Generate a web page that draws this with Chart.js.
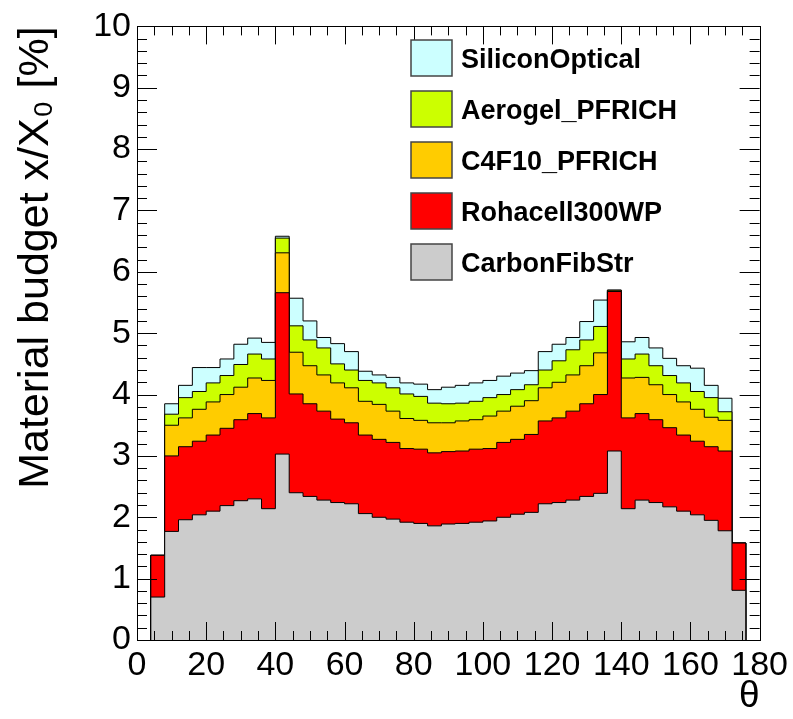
<!DOCTYPE html>
<html lang="en">
  <head>
    <meta charset="UTF-8" />
    <title>Material budget vs theta</title>
    <script src="https://cdn.jsdelivr.net/npm/chart.js@4.4.1/dist/chart.umd.min.js"></script>
    <style>
      html, body { margin: 0; padding: 0; background: #fff; }
      .chart-container { width: 793px; height: 719px; position: relative; }
    </style>
  </head>
  <body>
    <div class="chart-container">
      <canvas id="budgetChart"></canvas>
    </div>

    <script>
      // lower bin edges in theta (deg), last entry is the upper edge of the last bin
      const binEdges = [4, 8, 12, 16, 20, 24, 28, 32, 36, 40, 44, 48, 52, 56, 60, 64, 68, 72, 76, 80, 84, 88,
        92, 96, 100, 104, 108, 112, 116, 120, 124, 128, 132, 136, 140, 144, 148, 152, 156, 160, 164, 168, 172, 176];

      // x/X0 [%] per material, one value per bin
      const carbonFibStr = [0.70, 1.77, 1.96, 2.04, 2.10, 2.19, 2.27, 2.30, 2.14, 3.03, 2.40, 2.34, 2.28, 2.24, 2.22,
        2.06, 2.00, 1.97, 1.92, 1.90, 1.86, 1.89, 1.90, 1.92, 1.94, 2.00, 2.05, 2.08, 2.22, 2.24, 2.28, 2.34, 2.39,
        3.08, 2.14, 2.28, 2.24, 2.17, 2.10, 2.04, 1.95, 1.78, 0.81];
      const rohacell300WP = [0.68, 1.23, 1.19, 1.20, 1.24, 1.26, 1.32, 1.39, 1.48, 2.63, 1.61, 1.51, 1.45, 1.36, 1.32,
        1.28, 1.27, 1.25, 1.20, 1.21, 1.19, 1.18, 1.18, 1.19, 1.18, 1.22, 1.22, 1.27, 1.35, 1.38, 1.45, 1.51, 1.61,
        2.60, 1.48, 1.41, 1.35, 1.29, 1.24, 1.20, 1.20, 1.30, 0.77];
      const c4f10 = [0, 0.50, 0.47, 0.52, 0.54, 0.55, 0.53, 0.58, 0.61, 0.65, 0.68, 0.62, 0.59, 0.59, 0.57,
        0.55, 0.57, 0.51, 0.49, 0.47, 0.49, 0.47, 0.49, 0.48, 0.53, 0.51, 0.54, 0.55, 0.54, 0.58, 0.59, 0.62, 0.68,
        0.02, 0.65, 0.59, 0.57, 0.54, 0.54, 0.52, 0.48, 0.50, 0];
      const aerogel = [0, 0.18, 0.33, 0.29, 0.31, 0.31, 0.37, 0.39, 0.35, 0.24, 0.43, 0.42, 0.44, 0.31, 0.29,
        0.34, 0.35, 0.38, 0.40, 0.39, 0.32, 0.31, 0.29, 0.30, 0.30, 0.27, 0.27, 0.26, 0.29, 0.35, 0.41, 0.42, 0.43,
        0, 0.31, 0.38, 0.31, 0.31, 0.31, 0.29, 0.32, 0.14, 0];
      const siliconOptical = [0, 0.17, 0.20, 0.39, 0.25, 0.27, 0.33, 0.26, 0.27, 0.03, 0.45, 0.31, 0.17, 0.33, 0.30,
        0.15, 0.13, 0.17, 0.18, 0.20, 0.22, 0.27, 0.29, 0.30, 0.28, 0.30, 0.27, 0.23, 0.30, 0.27, 0.20, 0.30, 0.43,
        0, 0.28, 0.27, 0.29, 0.28, 0.28, 0.38, 0.20, 0.22, 0];

      const materials = [
        { label: "CarbonFibStr", values: carbonFibStr, color: "#cccccc" },
        { label: "Rohacell300WP", values: rohacell300WP, color: "#ff0000" },
        { label: "C4F10_PFRICH", values: c4f10, color: "#ffcc00" },
        { label: "Aerogel_PFRICH", values: aerogel, color: "#ccff00" },
        { label: "SiliconOptical", values: siliconOptical, color: "#ccffff" },
      ];

      // stack like THStack: each layer is drawn as the cumulative sum, filled to zero
      const running = binEdges.slice(0, -1).map(() => 0);
      const datasets = materials.map((m) => {
        m.values.forEach((v, i) => (running[i] += v));
        const last = binEdges.length - 1;
        const pts = [{ x: binEdges[0], y: 0 }];
        running.forEach((y, i) => pts.push({ x: binEdges[i], y: +y.toFixed(3) }));
        pts.push({ x: binEdges[last], y: +running[last - 1].toFixed(3) });
        pts.push({ x: binEdges[last], y: 0 });
        return {
          label: m.label,
          data: pts,
          stepped: true,
          fill: "origin",
          backgroundColor: m.color,
          borderColor: "#000",
          borderWidth: 1,
          pointRadius: 0,
        };
      });

      // ROOT-style frame with inward ticks on all four sides + legend box
      const rootFrame = {
        id: "rootFrame",
        afterDatasetsDraw(chart) {
          const { ctx, chartArea: a, scales } = chart;
          const xs = scales.x, ys = scales.y;
          ctx.save();
          ctx.strokeStyle = "#000";
          ctx.lineWidth = 1;
          ctx.beginPath();
          for (let v = 0; v <= 180; v += 5) {
            const px = Math.round(xs.getPixelForValue(v)) + 0.5;
            const len = v % 20 === 0 ? 18 : 9;
            ctx.moveTo(px, a.bottom); ctx.lineTo(px, a.bottom - len);
            ctx.moveTo(px, a.top); ctx.lineTo(px, a.top + len);
          }
          for (let k = 0; k <= 50; k++) {
            const py = Math.round(ys.getPixelForValue(k / 5)) + 0.5;
            const len = k % 5 === 0 ? 20 : 10;
            ctx.moveTo(a.left, py); ctx.lineTo(a.left + len, py);
            ctx.moveTo(a.right, py); ctx.lineTo(a.right - len, py);
          }
          ctx.stroke();
          ctx.strokeRect(Math.round(a.left) + 0.5, Math.round(a.top) + 0.5,
            Math.round(a.right - a.left), Math.round(a.bottom - a.top));

          // legend, top entry = last dataset
          const sets = chart.data.datasets.slice().reverse();
          ctx.font = "bold 27px 'Liberation Sans', Arial, sans-serif";
          ctx.textBaseline = "middle";
          ctx.textAlign = "left";
          sets.forEach((ds, i) => {
            const y = 40 + i * 51;
            ctx.fillStyle = ds.backgroundColor;
            ctx.fillRect(411, y, 41, 36);
            ctx.strokeStyle = "#444";
            ctx.lineWidth = 1.5;
            ctx.strokeRect(411, y, 41, 36);
            ctx.fillStyle = "#000";
            ctx.fillText(ds.label, 461, y + 21);
          });
          ctx.restore();
        },
      };

      const tickFont = { family: "'Liberation Sans', Arial, sans-serif", size: 34 };

      new Chart(document.getElementById("budgetChart"), {
        type: "line",
        data: { datasets },
        plugins: [rootFrame],
        options: {
          responsive: true,
          maintainAspectRatio: false,
          animation: false,
          layout: { padding: { left: 0, top: 23, right: 31, bottom: 0 } },
          plugins: { legend: { display: false }, tooltip: { enabled: false } },
          scales: {
            x: {
              type: "linear",
              min: 0,
              max: 180,
              grid: { display: false, drawTicks: false },
              border: { display: false },
              ticks: { stepSize: 20, padding: 5, color: "#000", font: tickFont, maxRotation: 0 },
              title: {
                display: true,
                text: "θ",
                align: "end",
                color: "#000",
                padding: 0,
                font: { family: "'Liberation Sans', Arial, sans-serif", size: 37 },
              },
              afterFit: (s) => { s.height = 79; },
            },
            y: {
              min: 0,
              max: 10,
              grid: { display: false, drawTicks: false },
              border: { display: false },
              ticks: { stepSize: 1, padding: 6, color: "#000", font: tickFont },
              title: {
                display: true,
                text: "Material budget x/X₀ [%]",
                align: "end",
                color: "#000",
                padding: { top: 10, bottom: 0 },
                font: { family: "'Liberation Sans', Arial, sans-serif", size: 43 },
              },
              afterFit: (s) => { s.width = 137; },
            },
          },
        },
      });
    </script>
  </body>
</html>
